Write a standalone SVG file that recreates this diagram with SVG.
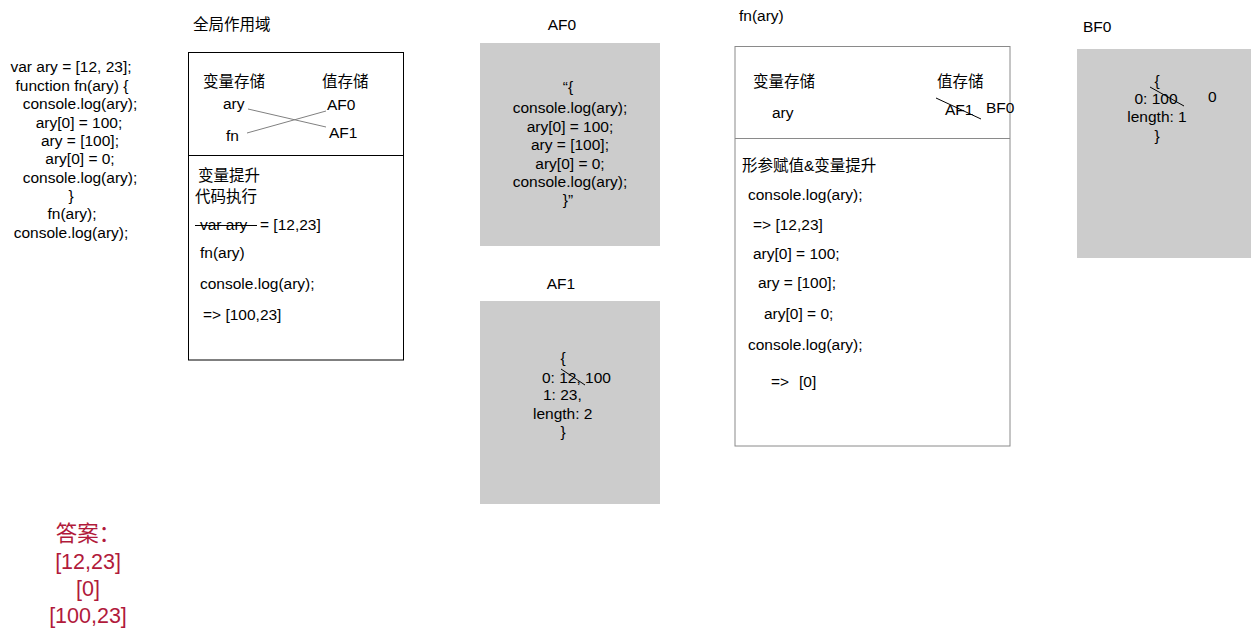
<svg xmlns="http://www.w3.org/2000/svg" width="1251" height="632" viewBox="0 0 1251 632">
<style>
text{font-family:"Liberation Sans","Noto Sans CJK SC",sans-serif;font-size:15.5px;fill:#000}
.c{text-anchor:middle}
.ans{font-size:21.5px;fill:#b11a3b;text-anchor:middle}
.heap{fill:#cccccc;stroke:none}
.strike{stroke:#000;stroke-width:1;fill:none}
.link{stroke:#808080;stroke-width:1;fill:none}
</style>
<rect width="1251" height="632" fill="#fff"/>

<g id="code">
<text class="c" x="71" y="72">var ary = [12, 23];</text>
<text class="c" x="72" y="90.5">function fn(ary) {</text>
<text class="c" x="80" y="109">console.log(ary);</text>
<text class="c" x="79" y="127.5">ary[0] = 100;</text>
<text class="c" x="80" y="146">ary = [100];</text>
<text class="c" x="80" y="164">ary[0] = 0;</text>
<text class="c" x="80" y="182.5">console.log(ary);</text>
<text class="c" x="71" y="201">}</text>
<text class="c" x="72" y="219">fn(ary);</text>
<text class="c" x="71" y="238">console.log(ary);</text>
</g>

<g id="answer">
<text class="ans" x="88" y="541">答案：</text>
<text class="ans" x="88" y="569">[12,23]</text>
<text class="ans" x="88" y="596">[0]</text>
<text class="ans" x="88" y="623">[100,23]</text>
</g>

<g id="global-scope">
<text x="193" y="30">全局作用域</text>
<rect x="188.5" y="52.5" width="215" height="307.5" fill="#fff" stroke="#000"/>
<line x1="188.5" y1="155.5" x2="403.5" y2="155.5" stroke="#000"/>
<text x="203" y="87">变量存储</text>
<text x="322" y="87">值存储</text>
<text x="223" y="109">ary</text>
<text x="327" y="110">AF0</text>
<text x="226" y="141">fn</text>
<text x="329" y="138">AF1</text>
<text x="198" y="181">变量提升</text>
<text x="195" y="202">代码执行</text>
<text x="200" y="230">var ary</text>
<line class="strike" x1="195" y1="225.5" x2="257" y2="225.5"/>
<text x="260" y="230">= [12,23]</text>
<text x="200" y="258">fn(ary)</text>
<text x="200" y="289">console.log(ary);</text>
<text x="203" y="320">=&gt; [100,23]</text>
</g>

<g id="AF0">
<text class="c" x="562" y="30">AF0</text>
<rect class="heap" x="480" y="43" width="180" height="203"/>
<text class="c" x="568" y="92">“{</text>
<text class="c" x="570" y="113">console.log(ary);</text>
<text class="c" x="570" y="132">ary[0] = 100;</text>
<text class="c" x="570" y="150">ary = [100];</text>
<text class="c" x="570" y="169">ary[0] = 0;</text>
<text class="c" x="570" y="187">console.log(ary);</text>
<text class="c" x="568" y="205">}”</text>
</g>

<g id="AF1">
<text class="c" x="561" y="289">AF1</text>
<rect class="heap" x="480" y="301" width="180" height="203"/>
<text class="c" x="563" y="363">{</text>
<text x="542" y="383">0: 12, 100</text>
<line class="strike" x1="561" y1="369" x2="585" y2="385"/>
<text x="543" y="400">1: 23,</text>
<text x="533" y="419">length: 2</text>
<text class="c" x="563" y="437">}</text>
</g>

<g id="fn-scope">
<text x="739" y="21">fn(ary)</text>
<rect x="735" y="46.5" width="275" height="399.5" fill="#fff" stroke="#8a8a8a"/>
<line x1="735" y1="138.5" x2="1010" y2="138.5" stroke="#8a8a8a"/>
<text x="753" y="87">变量存储</text>
<text x="937" y="87">值存储</text>
<text x="772" y="118">ary</text>
<text x="945" y="115">AF1</text>
<line class="strike" x1="936" y1="98" x2="981" y2="119"/>
<text x="986" y="113">BF0</text>
<text x="742" y="171">形参赋值&amp;变量提升</text>
<text x="748" y="200">console.log(ary);</text>
<text x="753" y="230">=&gt; [12,23]</text>
<text x="753" y="259">ary[0] = 100;</text>
<text x="758" y="288">ary = [100];</text>
<text x="764" y="319">ary[0] = 0;</text>
<text x="748" y="350">console.log(ary);</text>
<text x="771" y="387">=&gt;</text>
<text x="799" y="387">[0]</text>
</g>

<g id="BF0">
<text x="1083" y="32">BF0</text>
<rect class="heap" x="1077" y="49" width="174" height="209"/>
<text class="c" x="1157" y="86">{</text>
<text class="c" x="1156" y="104">0: 100</text>
<line class="strike" x1="1150" y1="87" x2="1184" y2="106"/>
<text class="c" x="1157" y="122">length: 1</text>
<text class="c" x="1157" y="141">}</text>
<text x="1208" y="102">0</text>
</g>

<g id="connectors">
<line class="link" x1="248" y1="109" x2="326" y2="127"/>
<line class="link" x1="247" y1="133" x2="326" y2="111"/>
</g>
</svg>
